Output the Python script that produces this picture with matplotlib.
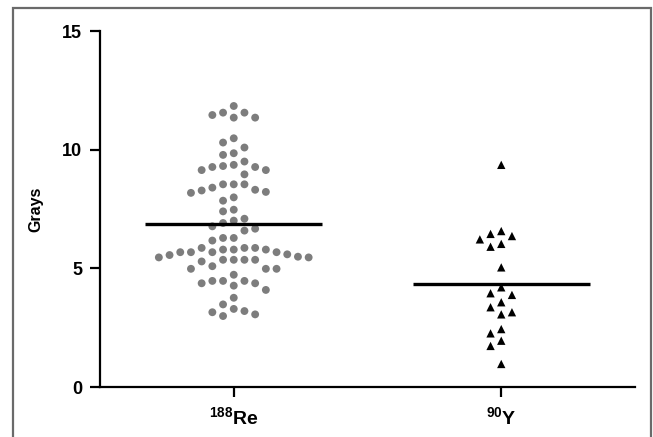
import numpy as np
import matplotlib
matplotlib.use("Agg")
import matplotlib.pyplot as plt
from matplotlib.patches import Rectangle

plt.rcParams['font.family'] = ['Liberation Sans', 'DejaVu Sans']
plt.rcParams['mathtext.fontset'] = 'custom'
plt.rcParams['mathtext.rm'] = 'Liberation Sans:bold'
plt.rcParams['mathtext.bf'] = 'Liberation Sans:bold'

# ---- data (Grays) ----
categories = [r'$^{188}\mathrm{Re}$', r'$^{90}\mathrm{Y}$']
re188 = np.array([
    11.84, 11.56, 11.46, 11.56, 11.35, 11.35,
    10.48, 10.30, 10.09, 9.85, 9.78,
    9.50, 9.31, 9.27, 9.14, 9.14, 9.27, 9.36, 8.96,
    8.28, 8.18, 8.54, 8.40, 8.54, 8.22, 8.54, 8.31, 7.99, 7.85,
    7.40, 7.47,
    7.09, 6.91, 6.77, 7.01, 6.59, 6.67,
    6.28, 6.28, 6.17,
    5.86, 5.86, 5.79, 5.79, 5.79, 5.86,
    5.68, 5.68, 5.56,
    5.46, 5.36, 5.36, 5.36, 5.29, 5.36, 5.46,
    5.49, 5.59, 5.68, 5.68,
    4.98, 4.98, 4.98, 5.09, 4.73,
    4.47, 4.47, 4.37, 4.09, 4.27, 4.37, 4.47,
    3.76, 3.48, 3.29, 3.15, 2.99, 3.06, 3.20,
])
y90 = np.array([
    9.36, 6.36, 6.45, 6.57, 6.22, 6.03, 5.91, 5.04, 4.20, 3.95,
    3.88, 3.57, 3.36, 3.15, 3.06, 2.44, 2.26, 1.95, 1.73, 0.97,
])
yticks = [0, 5, 10, 15]


def swarm_offsets(values, thresh, step):
    """Grid-based beeswarm: each point goes to the nearest free column."""
    order = np.argsort(-values, kind='stable')
    cols = {}
    offs = np.zeros(len(values))
    cand = [0]
    for j in range(1, 40):
        cand += [-j, j]
    for i in order:
        v = values[i]
        for k in cand:
            if all(abs(v - u) >= thresh for u in cols.get(k, [])):
                break
        cols.setdefault(k, []).append(v)
        offs[i] = k * step
    return offs


W, H = 653, 437
fig = plt.figure(figsize=(W / 100, H / 100), dpi=100)
fig.patch.set_facecolor('white')
fig.patches.append(Rectangle((13 / W, -0.05), (651 - 13) / W, (1 - 8 / H) + 0.05,
                             transform=fig.transFigure, fill=False,
                             edgecolor='#6a6a6a', lw=1.6))

ax = fig.add_axes([100 / W, 1 - 387 / H, (635 - 100) / W, (387 - 31) / H])

step = 0.04
thresh = 0.42
ax.scatter(0 + swarm_offsets(re188, thresh, step), re188, s=32, marker='o',
           color='#7d7d7d', edgecolors='none', zorder=3)
ax.scatter(1 + swarm_offsets(y90, thresh, step), y90, s=36, marker='^',
           color='black', edgecolors='none', zorder=3)

for pos, vals in [(0, re188), (1, y90)]:
    ax.hlines(np.mean(vals), pos - 0.33, pos + 0.33, color='black', lw=2.4, zorder=4)

ax.set_xlim(-0.5, 1.5)
ax.set_ylim(0, 15)
ax.set_yticks(yticks)
ax.set_yticklabels([str(t) for t in yticks], fontsize=13, fontweight='bold')
ax.set_xticks([0, 1])
ax.set_xticklabels(categories, fontsize=14)
ax.set_ylabel('Grays', fontsize=11.5, fontweight='bold', labelpad=13)

for s in ['top', 'right']:
    ax.spines[s].set_visible(False)
for s in ['left', 'bottom']:
    ax.spines[s].set_linewidth(1.6)
ax.tick_params(axis='both', direction='out', length=7, width=1.6, pad=6)
ax.tick_params(axis='x', pad=7)

fig.savefig('out.png', dpi=100, facecolor='white')
